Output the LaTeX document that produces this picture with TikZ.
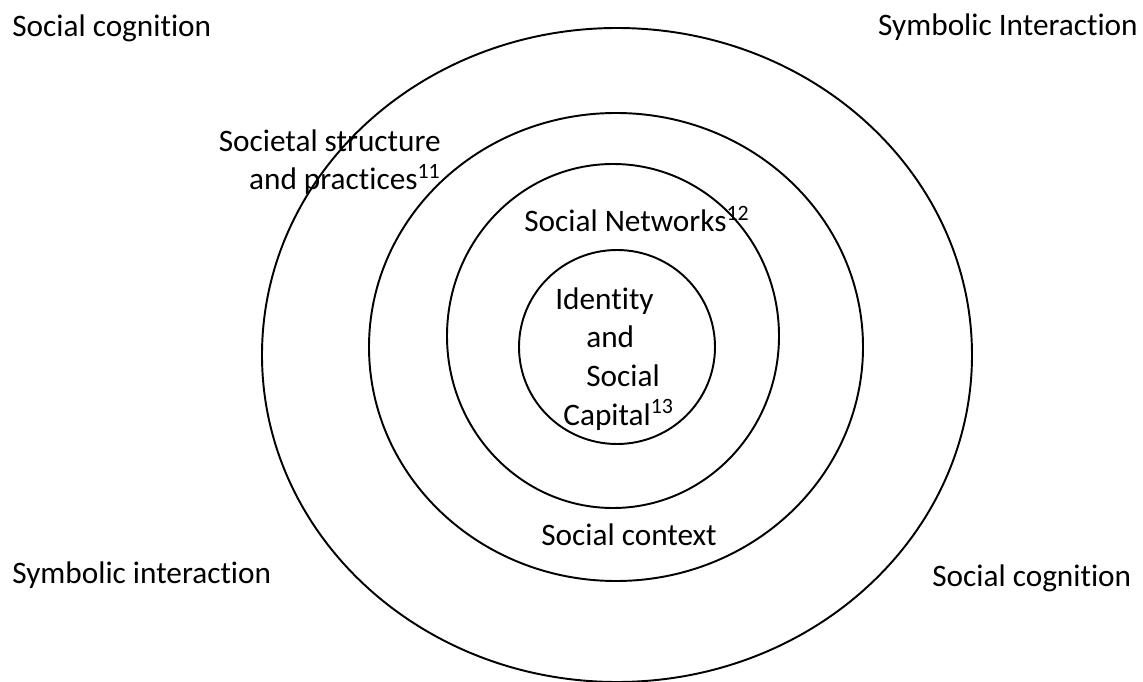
\documentclass[tikz,border=0pt]{standalone}
\usepackage{fontspec}
\setmainfont{Carlito}[Ligatures=CommonOff]
\begin{document}
\begin{tikzpicture}[x=0.02cm, y=-0.02cm,
  ring/.style = {line width=1.1pt},
  txt/.style  = {inner sep=0pt, font=\fontsize{17.8}{22}\selectfont}]
  \useasboundingbox (0,0) rectangle (1143,682);
  % the four rings, outside in
  \draw[ring] (617,355) ellipse (355 and 327);
  \draw[ring] (616,347) ellipse (247 and 234);
  \draw[ring] (613,336) ellipse (166 and 172);
  \draw[ring] (617,347) ellipse (98 and 97);

  % corner labels
  \node[txt, anchor=base west] (cogtl) at (12,37)   {Social cognition};
  \node[txt, anchor=base east] (symtr) at (1138,36) {Symbolic Interaction};
  \node[txt, anchor=base west] (symbl) at (12,583)  {Symbolic interaction};
  \node[txt, anchor=base west] (cogbr) at (932,586) {Social cognition};

  % ring labels (base of a two-line node is its last line)
  \node[txt, anchor=base east, align=right] (society) at (441,190)
    {Societal structure\\and practices\textsuperscript{11}};
  \node[txt, anchor=base west] (network) at (524,232) {Social Networks\textsuperscript{12}};
  \node[txt, anchor=base west] (context) at (541,545) {Social context};
  \node[txt, anchor=base west, align=left] (identity) at (555,425)
    {Identity\\\hspace*{0.62cm}and\\\hspace*{0.62cm}Social\\\hspace*{0.16cm}Capital\textsuperscript{13}};
\end{tikzpicture}
\end{document}
